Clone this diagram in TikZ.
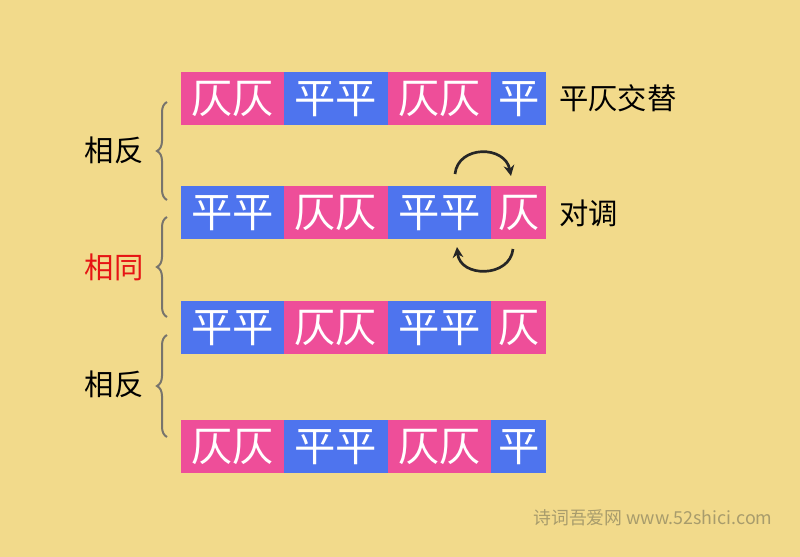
\documentclass[tikz,border=0pt]{standalone}
\usepackage{fontspec}
\newfontfamily\cjk{Noto Sans CJK SC}
\usetikzlibrary{decorations.pathreplacing,arrows.meta}
\definecolor{bg}{RGB}{242,218,139}
\definecolor{pk}{RGB}{238,78,153}
\definecolor{bl}{RGB}{78,116,238}
\definecolor{brc}{RGB}{120,116,108}
\definecolor{wm}{RGB}{168,156,108}
\definecolor{redt}{RGB}{230,20,20}
\tikzset{
  seg/.style={inner sep=0pt, anchor=north west, minimum height=39.75pt, text=white, font=\cjk\fontsize{31pt}{31pt}\selectfont},
  wide/.style={minimum width=77.5pt},
  narrow/.style={minimum width=41.25pt},
  lbl/.style={font=\cjk\fontsize{22pt}{22pt}\selectfont, inner sep=0pt},
  bracestyle/.style={draw=brc, line width=1.5pt, decorate, decoration={brace, amplitude=7.5pt}},
  swaparrow/.style={line width=2pt, draw=black!85, -{Stealth[length=8pt,width=8pt]}}
}
\begin{document}
\begin{tikzpicture}[x=0.75pt,y=-0.75pt]
\fill[bg] (0,0) rectangle (800,557);
\useasboundingbox (0,0) rectangle (800,557);
% row 1
\node[seg,wide,fill=pk] (r1a) at (181,72) {仄仄};
\node[seg,wide,fill=bl] (r1b) at (284,72) {平平};
\node[seg,wide,fill=pk] (r1c) at (388,72) {仄仄};
\node[seg,narrow,fill=bl] (r1d) at (491,72) {平};
% row 2
\node[seg,wide,fill=bl] (r2a) at (181,186) {平平};
\node[seg,wide,fill=pk] (r2b) at (284,186) {仄仄};
\node[seg,wide,fill=bl] (r2c) at (388,186) {平平};
\node[seg,narrow,fill=pk] (r2d) at (491,186) {仄};
% row 3
\node[seg,wide,fill=bl] (r3a) at (181,301) {平平};
\node[seg,wide,fill=pk] (r3b) at (284,301) {仄仄};
\node[seg,wide,fill=bl] (r3c) at (388,301) {平平};
\node[seg,narrow,fill=pk] (r3d) at (491,301) {仄};
% row 4
\node[seg,wide,fill=pk] (r4a) at (181,420) {仄仄};
\node[seg,wide,fill=bl] (r4b) at (284,420) {平平};
\node[seg,wide,fill=pk] (r4c) at (388,420) {仄仄};
\node[seg,narrow,fill=bl] (r4d) at (491,420) {平};
% right labels
\node[lbl, anchor=west] (alt) at (559,98) {平仄交替};
\node[lbl, anchor=west] (swap) at (559,213) {对调};
% left labels
\node[lbl] (opp1) at (114,150) {相反};
\node[lbl, text=redt] (same) at (114,267) {相同};
\node[lbl] (opp2) at (114,384) {相反};
% braces
\coordinate (b1s) at (167,200); \coordinate (b1e) at (167,102);
\coordinate (b2s) at (167,317); \coordinate (b2e) at (167,217);
\coordinate (b3s) at (167,437); \coordinate (b3e) at (167,335);
\draw[bracestyle] (b1s) -- (b1e);
\draw[bracestyle] (b2s) -- (b2e);
\draw[bracestyle] (b3s) -- (b3e);
% swap arrows
\coordinate (a1s) at (455,174); \coordinate (a1e) at (511,176);
\coordinate (a2s) at (513,249); \coordinate (a2e) at (457,247);
\draw[swaparrow] (a1s) .. controls (458,145) and (505,145) .. (a1e);
\draw[swaparrow] (a2s) .. controls (510,278) and (460,278) .. (a2e);
% watermark
\node[font=\cjk\fontsize{13.4pt}{13.4pt}\selectfont, text=wm, anchor=west, inner sep=0pt] (wmk) at (533,518) {诗词吾爱网 www.52shici.com};
\end{tikzpicture}
\end{document}
